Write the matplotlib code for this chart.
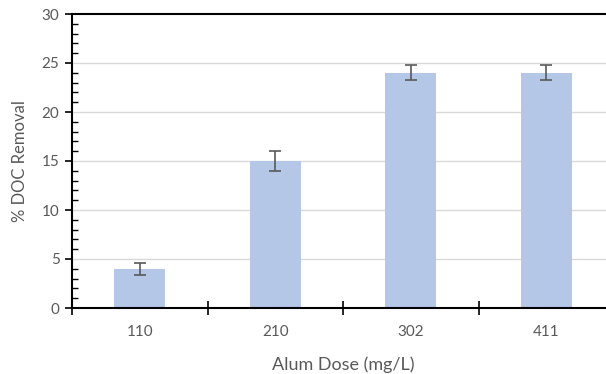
import matplotlib
matplotlib.use("Agg")
import matplotlib.pyplot as plt
import numpy as np

categories = ["110", "210", "302", "411"]
values = [4.0, 15.0, 24.0, 24.0]
errors = [0.63, 1.0, 0.78, 0.78]

plt.rcParams['font.family'] = ['Lato', 'DejaVu Sans']

fig = plt.figure(figsize=(6.06, 3.74), dpi=100)
ax = fig.add_axes([72/606, 1-308/374, 542/606, 294/374])

x = np.arange(len(categories))
ax.bar(x, values, width=0.376, color='#B4C7E7', zorder=2)
ax.errorbar(x, values, yerr=errors, fmt='none', ecolor='#595959',
            elinewidth=1.2, capsize=4, capthick=1.2, zorder=3)

ax.set_xlim(-0.5, 3.5)
ax.set_ylim(0, 30)
ax.set_yticks([0, 5, 10, 15, 20, 25, 30])
ax.set_yticks(np.arange(0, 31, 1), minor=True)
ax.set_xticks(x)
ax.set_xticklabels(categories)
ax.set_xticks(np.arange(-0.5, 4, 1), minor=True)

for v in [5, 10, 15, 20, 25]:
    ax.axhline(v, color='#D9D9D9', lw=1, zorder=1)

ax.tick_params(axis='x', which='major', length=0, pad=12, labelsize=11, labelcolor='#595959')
ax.tick_params(axis='x', which='minor', direction='inout', length=10, width=1.2, color='black')
ax.tick_params(axis='y', which='major', direction='out', length=5, width=1.2, color='black',
               labelsize=11, labelcolor='#595959', pad=4)
ax.tick_params(axis='y', which='minor', direction='in', length=4, width=1.0, color='black')

for s in ['left', 'bottom', 'top']:
    ax.spines[s].set_color('black')
    ax.spines[s].set_linewidth(1.5)
ax.spines['right'].set_visible(False)

ax.set_xlabel('Alum Dose (mg/L)', fontsize=13, color='#595959', labelpad=13)
ax.set_ylabel('% DOC Removal', fontsize=12, color='#595959', labelpad=10)

fig.savefig('out.png', dpi=100)
